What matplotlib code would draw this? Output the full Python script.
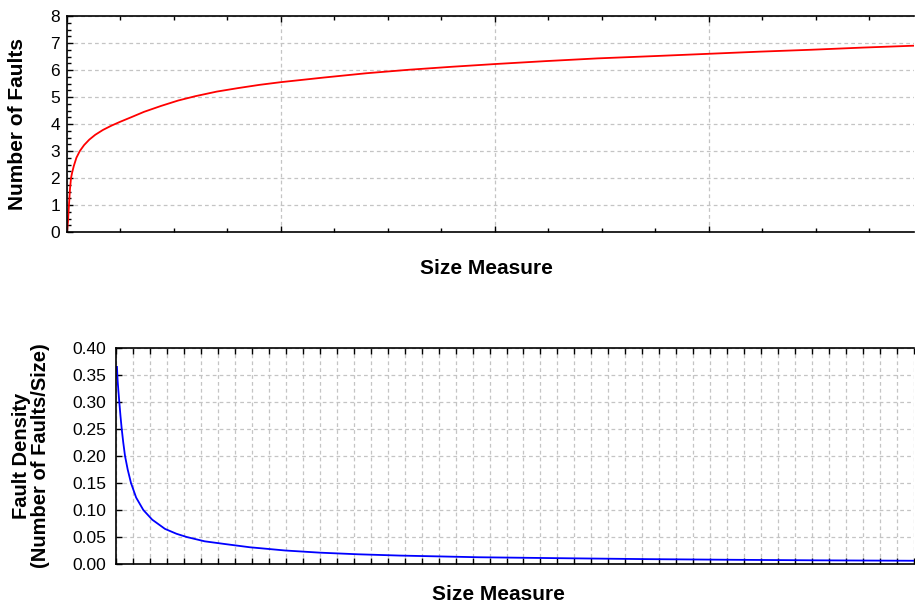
import numpy as np
import matplotlib
matplotlib.use("Agg")
import matplotlib.pyplot as plt
from matplotlib.ticker import MultipleLocator, FixedLocator

# values
size_top = [0, 0.6, 1.2, 1.8, 2.3, 3.0, 3.5, 4.7, 6, 8, 11, 15, 20, 26, 33, 42, 52,
            62, 75, 90, 110, 130, 150, 175, 200, 225, 250, 300, 350, 400, 450, 500,
            560, 620, 690, 750, 810, 870, 930, 990]
faults = [0, 0.2, 0.4, 0.75, 1.0, 1.35, 1.6, 2.0, 2.2, 2.45, 2.75, 3.0, 3.22, 3.42,
          3.6, 3.78, 3.94, 4.08, 4.25, 4.45, 4.67, 4.87, 5.03, 5.2, 5.33, 5.45, 5.55,
          5.72, 5.88, 6.01, 6.12, 6.22, 6.33, 6.43, 6.52, 6.6, 6.68, 6.75, 6.83, 6.9]

size_bottom = [1.2, 2, 3, 4.1, 5.5, 7.1, 9, 11.2, 14.5, 18.6, 25, 33.9, 45, 60.8, 75,
               87.7, 110, 135, 166, 210, 253, 300, 352, 450, 560, 660, 765, 870, 990]
density = [0.365, 0.34, 0.32, 0.30, 0.275, 0.25, 0.225, 0.20, 0.175, 0.15, 0.123,
           0.10, 0.082, 0.065, 0.056, 0.05, 0.042, 0.037, 0.031, 0.025, 0.021, 0.018,
           0.0156, 0.0125, 0.0106, 0.009, 0.0078, 0.0068, 0.006]

x_max = 990
n_bottom_steps = 47

plt.rcParams['font.family'] = ['Liberation Sans', 'DejaVu Sans']

fig = plt.figure(figsize=(9.15, 6.06), dpi=100)
ax1 = fig.add_axes([67 / 915, 1 - 232 / 606, 847 / 915, 216 / 606])
ax2 = fig.add_axes([116 / 915, 1 - 564 / 606, 798 / 915, 216 / 606])

grid_kw = dict(color='#c4c4c4', linestyle=(0, (3, 2.5)), linewidth=0.9)

for ax in (ax1, ax2):
    ax.spines['right'].set_visible(False)
    for s in ('left', 'top', 'bottom'):
        ax.spines[s].set_linewidth(1.2)
    ax.tick_params(axis='both', which='both', direction='in', top=True,
                   right=False, width=1.0, labelsize=12.5)
    ax.tick_params(axis='both', which='major', length=4)
    ax.tick_params(axis='both', which='minor', length=3)
    ax.tick_params(axis='x', labelbottom=False)
    ax.set_axisbelow(True)

# top panel: number of faults
ax1.plot(size_top, faults, color='red', linewidth=1.3)
ax1.set_xlim(0, x_max)
ax1.set_ylim(0, 8)
ax1.xaxis.set_major_locator(MultipleLocator(250))
ax1.xaxis.set_minor_locator(MultipleLocator(62.5))
ax1.yaxis.set_major_locator(MultipleLocator(1))
ax1.yaxis.set_minor_locator(MultipleLocator(0.25))
ax1.tick_params(axis='y', pad=5)
ax1.grid(True, which='major', **grid_kw)
ax1.set_xlabel("Size Measure", fontsize=15, fontweight='bold', va='baseline')
ax1.xaxis.set_label_coords((486 - 67) / 847, (232 - 274) / 216)
ax1.set_ylabel("Number of Faults", fontsize=15, fontweight='bold', va='center')
ax1.yaxis.set_label_coords((18 - 67) / 847, 0.5)

# bottom panel: fault density
ax2.plot(size_bottom, density, color='blue', linewidth=1.3)
ax2.set_xlim(0, x_max)
ax2.set_ylim(0, 0.40)
ax2.xaxis.set_major_locator(FixedLocator(np.linspace(0, x_max, n_bottom_steps + 1)))
ax2.yaxis.set_major_locator(MultipleLocator(0.05))
ax2.yaxis.set_major_formatter(plt.FormatStrFormatter('%.2f'))
ax2.tick_params(axis='y', pad=7)
ax2.grid(True, which='major', **grid_kw)
ax2.set_xlabel("Size Measure", fontsize=15, fontweight='bold', va='baseline')
ax2.xaxis.set_label_coords((498.5 - 116) / 798, (564 - 600) / 216)
ax2.set_ylabel("Fault Density\n(Number of Faults/Size)", fontsize=14.5,
               fontweight='bold', va='center', linespacing=1.05)
ax2.yaxis.set_label_coords((31 - 116) / 798, 0.5)

fig.savefig("out.png", dpi=100)
